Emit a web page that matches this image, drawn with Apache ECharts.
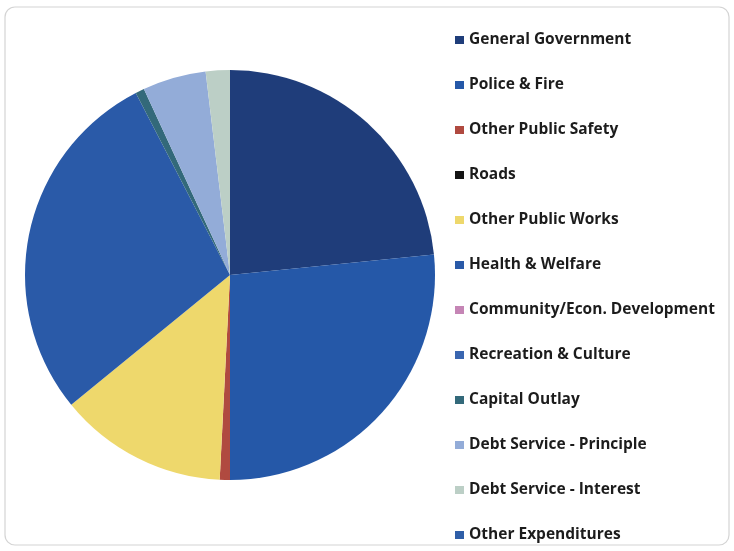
<!DOCTYPE html>
<html>
<head>
<meta charset="utf-8">
<script src="https://cdn.jsdelivr.net/npm/echarts@6/dist/echarts.min.js"></script>
<style>
  html, body { margin: 0; padding: 0; background: #ffffff; }
  #chart { width: 734px; height: 551px; }
</style>
</head>
<body>
<div id="chart"></div>
<script>
// Expenditure categories, in legend / slice order (clockwise from 12 o'clock)
const categories = [
  'General Government',
  'Police & Fire',
  'Other Public Safety',
  'Roads',
  'Other Public Works',
  'Health & Welfare',
  'Community/Econ. Development',
  'Recreation & Culture',
  'Capital Outlay',
  'Debt Service - Principle',
  'Debt Service - Interest',
  'Other Expenditures'
];

// Share of total expenditures (percent)
const shares = [23.4, 26.6, 0.8, 0, 13.3, 28.3, 0, 0, 0.7, 5.0, 1.9, 0];

// Slice colours
const sliceColors = [
  '#1f3d7a', '#2558a8', '#b04a40', '#141414',
  '#eed86c', '#2a5aa8', '#c585b5', '#3a66b0',
  '#33697a', '#93acd8', '#bccfc6', '#2f5fa8'
];

const chart = echarts.init(document.getElementById('chart'), null, { renderer: 'canvas' });

chart.setOption({
  backgroundColor: '#ffffff',
  animation: false,
  color: sliceColors,
  graphic: [{
    type: 'rect',
    shape: { x: 5, y: 7, width: 724, height: 538, r: 10 },
    style: { fill: 'none', stroke: '#d4d4d4', lineWidth: 1.2 },
    silent: true
  }],
  legend: {
    orient: 'vertical',
    left: 450,
    top: 27,
    icon: 'rect',
    itemWidth: 9,
    itemHeight: 8,
    itemGap: 29,
    textStyle: {
      fontFamily: 'Open Sans',
      fontWeight: 'bold',
      fontSize: 15.5,
      lineHeight: 16,
      color: '#1c1c1c'
    },
    data: categories
  },
  series: [{
    type: 'pie',
    center: [230, 275],
    radius: [0, 205],
    startAngle: 90,
    clockwise: true,
    label: { show: false },
    labelLine: { show: false },
    itemStyle: { borderWidth: 0 },
    emphasis: { disabled: true },
    data: categories.map((name, i) => ({ name: name, value: shares[i] }))
  }]
});
</script>
</body>
</html>
